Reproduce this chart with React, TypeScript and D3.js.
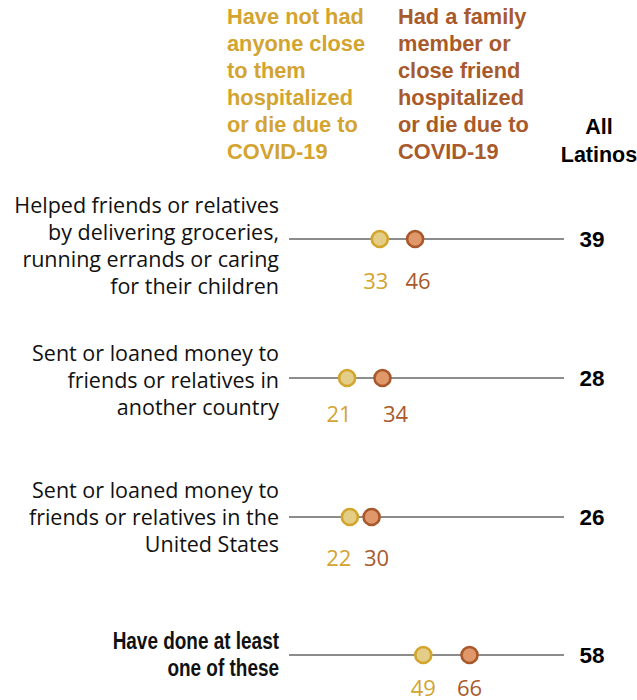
import React from "react";
import * as d3 from "d3";

const categories: string[][] = [
  ["Helped friends or relatives", "by delivering groceries,", "running errands or caring", "for their children"],
  ["Sent or loaned money to", "friends or relatives in", "another country"],
  ["Sent or loaned money to", "friends or relatives in the", "United States"],
  ["Have done at least", "one of these"],
];
const boldCategory = [false, false, false, true];
const notHospitalized = [33, 21, 22, 49];
const hadHospitalized = [46, 34, 30, 66];
const allLatinos = [39, 28, 26, 58];

const headerNot = ["Have not had", "anyone close", "to them", "hospitalized", "or die due to", "COVID-19"];
const headerHad = ["Had a family", "member or", "close friend", "hospitalized", "or die due to", "COVID-19"];
const headerAll = ["All", "Latinos"];

const W = 637;
const H = 700;
const FONT = "'Liberation Sans', Arial, sans-serif";
const LABEL_FONT = "'Open Sans', 'Liberation Sans', sans-serif";
const GOLD_TEXT = "#D3A430";
const BROWN_TEXT = "#A85A2B";
const GOLD_FILL = "#E4CD86";
const GOLD_STROKE = "#D4A52C";
const BROWN_FILL = "#E0976A";
const BROWN_STROKE = "#A8582A";
const LINE = "#8C8C8C";

const rowY = [239, 378, 517, 655];
const labelShift = [7, 2, 0, 0];
const numOffset = [42, 36, 41, 33];
const goldDx = [-4, -8, -11, 0];
const brownDx = [3, 13, 5, 0];

export default function App() {
  const x = d3.scaleLinear().domain([0, 100]).range([290, 562]);
  const lh = 27;
  return (
    <svg width={W} height={H} style={{ position: "absolute", left: 0, top: 0, background: "#fff" }} fontFamily={FONT}>
      {headerNot.map((t, i) => (
        <text key={"n" + i} x={227} y={24 + i * lh} fill={GOLD_TEXT} fontWeight="bold" fontSize={21.8}>{t}</text>
      ))}
      {headerHad.map((t, i) => (
        <text key={"h" + i} x={398} y={24 + i * lh} fill={BROWN_TEXT} fontWeight="bold" fontSize={21.8}>{t}</text>
      ))}
      {headerAll.map((t, i) => (
        <text key={"a" + i} x={599} y={134 + i * 28} fill="#000" fontWeight="bold" fontSize={21.5} textAnchor="middle">{t}</text>
      ))}
      {categories.map((lines, r) => {
        const y = rowY[r];
        const n = lines.length;
        const a = notHospitalized[r];
        const b = hadHospitalized[r];
        const bold = boldCategory[r];
        return (
          <g key={r}>
            <g transform={`translate(279,0) scale(${bold ? 0.79 : 1},1)`}>
              {lines.map((t, i) => (
                <text key={i} x={0} y={y - ((n - 1) / 2) * lh + i * lh + labelShift[r] + 7.5} textAnchor="end"
                  fontFamily={bold ? FONT : LABEL_FONT}
                  fontSize={bold ? 24 : 21.5} fontWeight={bold ? "bold" : "normal"} fill="#111">{t}</text>
              ))}
            </g>
            <line x1={x(0) - 1} x2={x(100) + 2} y1={y} y2={y} stroke={LINE} strokeWidth={2.2} />
            <circle cx={x(a)} cy={y} r={8} fill={GOLD_FILL} stroke={GOLD_STROKE} strokeWidth={2.6} />
            <circle cx={x(b)} cy={y} r={8} fill={BROWN_FILL} stroke={BROWN_STROKE} strokeWidth={2.6} />
            <text x={x(a) + goldDx[r]} y={y + numOffset[r] + 7.5} textAnchor="middle" fontFamily={LABEL_FONT} fontSize={22} fill={GOLD_TEXT}>{a}</text>
            <text x={x(b) + brownDx[r]} y={y + numOffset[r] + 7.5} textAnchor="middle" fontFamily={LABEL_FONT} fontSize={22} fill={BROWN_TEXT}>{b}</text>
            <text x={592} y={y + 8} textAnchor="middle" fontSize={22.5} fontWeight="bold" fill="#000">{allLatinos[r]}</text>
          </g>
        );
      })}
    </svg>
  );
}
